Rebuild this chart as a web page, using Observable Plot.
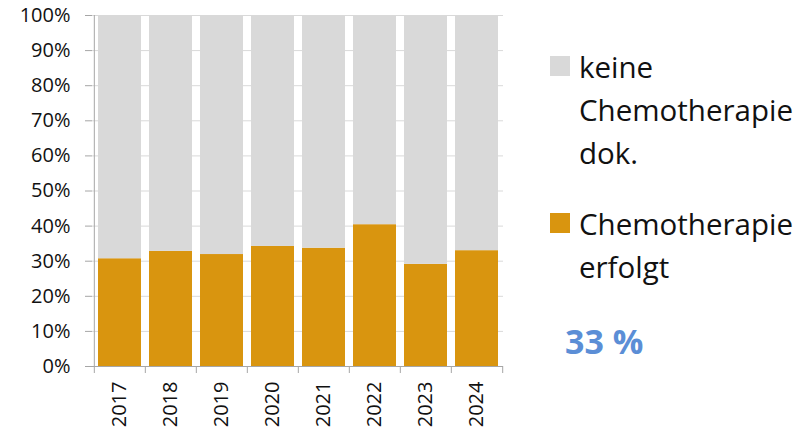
<!DOCTYPE html>
<html>
<head>
<meta charset="utf-8">
<script src="https://cdn.jsdelivr.net/npm/d3@7"></script>
<script src="https://cdn.jsdelivr.net/npm/@observablehq/plot@0.6"></script>
<style>
  html, body { margin: 0; padding: 0; background: #fff; }
  #wrap { position: relative; width: 800px; height: 435px; font-family: "Open Sans", sans-serif; }
  #wrap svg { position: absolute; left: 0; top: 0; }
  .leg { position: absolute; left: 579px; font-size: 29.5px; line-height: 43px; color: #111; white-space: nowrap; }
  .sw { position: absolute; left: 550px; width: 20px; height: 20px; }
  #big { position: absolute; left: 565px; top: 319px; font-size: 34px; line-height: 44px; font-weight: bold; color: #5b8ed6; }
</style>
</head>
<body>
<div id="wrap"></div>
<script>
const years = ["2017","2018","2019","2020","2021","2022","2023","2024"];
const erfolgt = [30.7, 32.8, 31.9, 34.2, 33.7, 40.4, 29.1, 33.0];
const seriesNames = ["Chemotherapie erfolgt", "keine Chemotherapie dok."];
const legendLines = [["keine", "Chemotherapie", "dok."], ["Chemotherapie", "erfolgt"]];
const seriesColors = ["#d9950f", "#d9d9d9"];
const yTicks = [0,10,20,30,40,50,60,70,80,90,100];
const overall = "33 %";

const data = [];
years.forEach((y, i) => {
  data.push({year: y, series: seriesNames[0], value: erfolgt[i]});
  data.push({year: y, series: seriesNames[1], value: 100 - erfolgt[i]});
});

const W = 800, H = 435, mL = 92, mR = 297, mT = 15, mB = 69;
const step = (W - mL - mR) / years.length;
const axisColor = "#a6a6a6";

const chart = Plot.plot({
  width: W, height: H,
  marginLeft: mL, marginRight: mR, marginTop: mT, marginBottom: mB,
  style: {fontFamily: "Open Sans, sans-serif", fontSize: "20px", color: "#111", background: "transparent"},
  x: {domain: years, padding: 0, label: null},
  y: {domain: [0, 100], label: null},
  color: {domain: seriesNames, range: seriesColors},
  marks: [
    Plot.ruleY(yTicks, {stroke: "#d9d9d9", strokeWidth: 1}),
    Plot.barY(data, {x: "year", y: "value", fill: "series", order: seriesNames, insetLeft: 4, insetRight: 4}),
    Plot.axisY({ticks: yTicks, tickFormat: d => d + "%", tickSize: 7, tickPadding: 15, stroke: axisColor, label: null}),
    Plot.ruleX([years[0]], {dx: -step / 2, y1: 0, y2: 100, stroke: axisColor}),
    Plot.ruleY([0], {stroke: axisColor}),
    Plot.ruleX(years, {dx: -step / 2, y1: 0, y2: 0, insetBottom: -7, stroke: axisColor}),
    Plot.ruleX([years[years.length - 1]], {dx: step / 2, y1: 0, y2: 0, insetBottom: -7, stroke: axisColor}),
    Plot.axisX({tickSize: 0, tickPadding: 15, tickRotate: -90, label: null})
  ]
});
const wrap = document.getElementById("wrap");
wrap.appendChild(chart);

// legend (HTML, positioned at right)
const legTops = [45, 202];
legendLines.forEach((lines, i) => {
  const sw = document.createElement("div");
  sw.className = "sw";
  sw.style.top = (legTops[i] + 11) + "px";
  sw.style.background = seriesColors[1 - i];
  wrap.appendChild(sw);
  const t = document.createElement("div");
  t.className = "leg";
  t.style.top = legTops[i] + "px";
  t.innerHTML = lines.join("<br>");
  wrap.appendChild(t);
});
const big = document.createElement("div");
big.id = "big";
big.textContent = overall;
wrap.appendChild(big);
</script>
</body>
</html>
